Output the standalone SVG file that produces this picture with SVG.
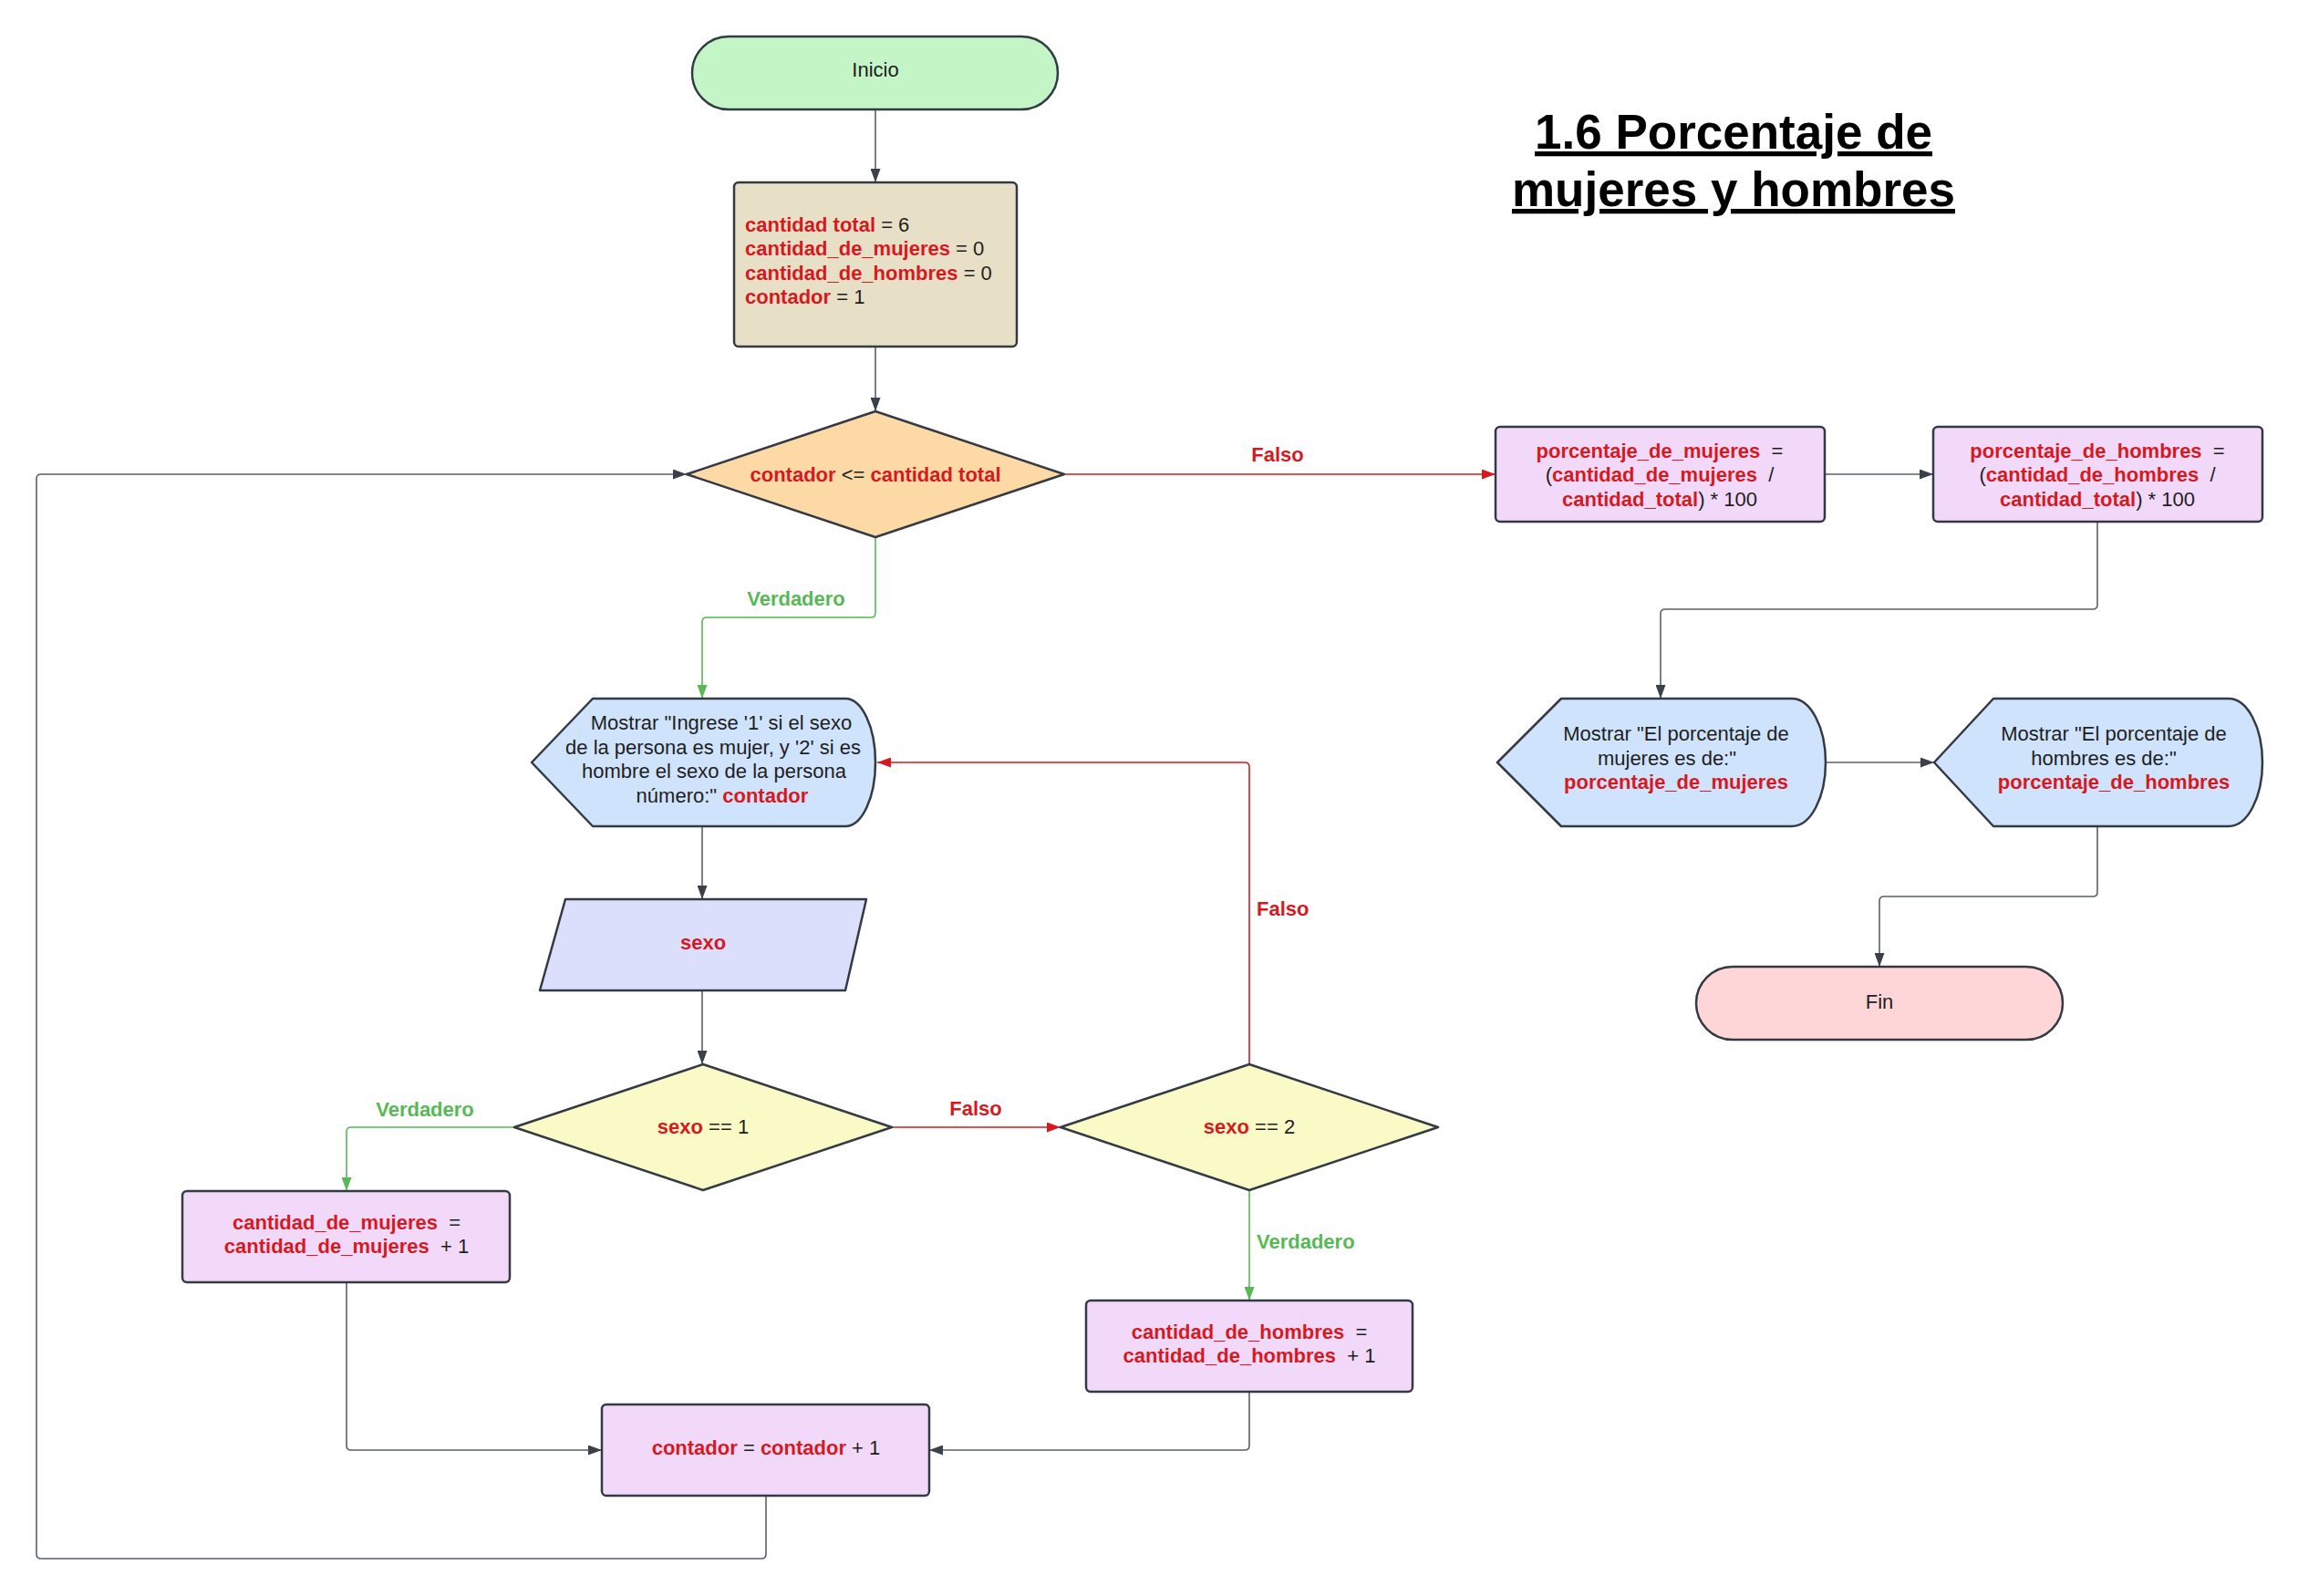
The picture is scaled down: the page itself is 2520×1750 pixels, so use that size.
<svg xmlns="http://www.w3.org/2000/svg" width="2520" height="1750" viewBox="0 0 2520 1750">
<style>
text{font-family:"Liberation Sans",Arial,sans-serif;font-size:22px;fill:#1e1e1e;white-space:pre}
.c{text-anchor:middle}
.r{fill:#d7191f;font-weight:bold}
.g{fill:#57b955;font-weight:bold}
.rl{fill:#d7191f;font-weight:bold}
.shape{stroke:#333a44;stroke-width:2.5;stroke-linejoin:round}
.ln{fill:none;stroke:#5a6068;stroke-width:1.6}
.lr{fill:none;stroke:#d7191f;stroke-width:1.6}
.lg{fill:none;stroke:#57b955;stroke-width:1.6}
.title{font-size:53px;font-weight:bold;fill:#000;text-decoration:underline;text-anchor:middle}
</style>
<defs>
<marker id="ad" markerUnits="userSpaceOnUse" markerWidth="15" markerHeight="11" refX="15" refY="5.5" orient="auto"><path d="M0,0 L15,5.5 L0,11 z" fill="#3a414a"/></marker>
<marker id="ar" markerUnits="userSpaceOnUse" markerWidth="15" markerHeight="11" refX="15" refY="5.5" orient="auto"><path d="M0,0 L15,5.5 L0,11 z" fill="#d7191f"/></marker>
<marker id="ag" markerUnits="userSpaceOnUse" markerWidth="15" markerHeight="11" refX="15" refY="5.5" orient="auto"><path d="M0,0 L15,5.5 L0,11 z" fill="#57b955"/></marker>
</defs>
<rect width="2520" height="1750" fill="#ffffff"/>

<g id="connectors">
<path class="ln" d="M960,120 V200" marker-end="url(#ad)"/>
<path class="ln" d="M960,380 V451" marker-end="url(#ad)"/>
<path class="lr" d="M1167,520 H1640" marker-end="url(#ar)"/>
<path class="ln" d="M2001,520 H2120" marker-end="url(#ad)"/>
<path class="ln" d="M2300,572 V663 Q2300,668 2295,668 H1826 Q1821,668 1821,673 V766" marker-end="url(#ad)"/>
<path class="ln" d="M2002,836 H2121" marker-end="url(#ad)"/>
<path class="ln" d="M2300,906 V978 Q2300,983 2295,983 H2066 Q2061,983 2061,988 V1060" marker-end="url(#ad)"/>
<path class="lg" d="M960,589 V672 Q960,677 955,677 H775 Q770,677 770,682 V766" marker-end="url(#ag)"/>
<path class="ln" d="M770,906 V986" marker-end="url(#ad)"/>
<path class="ln" d="M770,1086 V1167" marker-end="url(#ad)"/>
<path class="lg" d="M564,1236 H385 Q380,1236 380,1241 V1306" marker-end="url(#ag)"/>
<path class="lr" d="M978,1236 H1163" marker-end="url(#ar)"/>
<path class="lr" d="M1370,1167 V841 Q1370,836 1365,836 H962" marker-end="url(#ar)"/>
<path class="lg" d="M1370,1305 V1426" marker-end="url(#ag)"/>
<path class="ln" d="M380,1406 V1585 Q380,1590 385,1590 H660" marker-end="url(#ad)"/>
<path class="ln" d="M1370,1526 V1585 Q1370,1590 1365,1590 H1019" marker-end="url(#ad)"/>
<path class="ln" d="M840,1640 V1704 Q840,1709 835,1709 H45 Q40,1709 40,1704 V525 Q40,520 45,520 H753" marker-end="url(#ad)"/>
<text class="rl c" x="1401" y="506">Falso</text>
<text class="g c" x="873" y="664">Verdadero</text>
<text class="rl" x="1378" y="1004">Falso</text>
<text class="g c" x="466" y="1224">Verdadero</text>
<text class="rl c" x="1070" y="1223">Falso</text>
<text class="g" x="1378" y="1369">Verdadero</text>
</g>

<g id="title">
<text class="title" x="1901" y="163">1.6 Porcentaje de</text>
<text class="title" x="1901" y="226">mujeres y hombres</text>
</g>

<g id="inicio">
<rect class="shape" x="759" y="40" width="401" height="80" rx="40" fill="#c3f5c7"/>
<text class="c" x="960" y="84">Inicio</text>
</g>

<g id="init">
<rect class="shape" x="805" y="200" width="310" height="180" rx="5" fill="#e8e0c6"/>
<text x="817" y="254"><tspan class="r">cantidad total</tspan> = 6</text>
<text x="817" y="280"><tspan class="r">cantidad_de_mujeres</tspan> = 0</text>
<text x="817" y="307"><tspan class="r">cantidad_de_hombres</tspan> = 0</text>
<text x="817" y="333"><tspan class="r">contador</tspan> = 1</text>
</g>

<g id="cond-contador">
<path class="shape" d="M753,520 L960,451 L1167,520 L960,589 Z" fill="#fdd9a6"/>
<text class="c" x="960" y="528"><tspan class="r">contador</tspan> &lt;= <tspan class="r">cantidad total</tspan></text>
</g>

<g id="calc-mujeres">
<rect class="shape" x="1640" y="468" width="361" height="104" rx="5" fill="#f2d9f9"/>
<text class="c" x="1820" y="502"><tspan class="r">porcentaje_de_mujeres</tspan>  =</text>
<text class="c" x="1820" y="528">(<tspan class="r">cantidad_de_mujeres</tspan>  /</text>
<text class="c" x="1820" y="555"><tspan class="r">cantidad_total</tspan>) * 100</text>
</g>

<g id="calc-hombres">
<rect class="shape" x="2120" y="468" width="361" height="104" rx="5" fill="#f2d9f9"/>
<text class="c" x="2300" y="502"><tspan class="r">porcentaje_de_hombres</tspan>  =</text>
<text class="c" x="2300" y="528">(<tspan class="r">cantidad_de_hombres</tspan>  /</text>
<text class="c" x="2300" y="555"><tspan class="r">cantidad_total</tspan>) * 100</text>
</g>

<g id="show-mujeres">
<path class="shape" d="M1712,766 H1965 A37,70 0 0 1 1965,906 H1712 L1642,836 Z" fill="#cfe3fc"/>
<text class="c" x="1838" y="812">Mostrar "El porcentaje de</text>
<text class="c" x="1828" y="839">mujeres es de:"</text>
<text class="c" x="1838" y="865"><tspan class="r">porcentaje_de_mujeres</tspan></text>
</g>

<g id="show-hombres">
<path class="shape" d="M2186,766 H2444 A37,70 0 0 1 2444,906 H2186 L2121,836 Z" fill="#cfe3fc"/>
<text class="c" x="2318" y="812">Mostrar "El porcentaje de</text>
<text class="c" x="2307" y="839">hombres es de:"</text>
<text class="c" x="2318" y="865"><tspan class="r">porcentaje_de_hombres</tspan></text>
</g>

<g id="fin">
<rect class="shape" x="1860" y="1060" width="402" height="80" rx="40" fill="#ffd6d8"/>
<text class="c" x="2061" y="1106">Fin</text>
</g>

<g id="show-ingrese">
<path class="shape" d="M650,766 H927 A33,70 0 0 1 927,906 H650 L583,836 Z" fill="#cfe3fc"/>
<text class="c" x="791" y="800">Mostrar "Ingrese '1' si el sexo</text>
<text class="c" x="782" y="827">de la persona es mujer, y '2' si es</text>
<text class="c" x="783" y="853">hombre el sexo de la persona</text>
<text class="c" x="792" y="880">número:" <tspan class="r">contador</tspan></text>
</g>

<g id="input-sexo">
<path class="shape" d="M620,986 H950 L927,1086 H592 Z" fill="#dcdffc"/>
<text class="c r" x="771" y="1041">sexo</text>
</g>

<g id="cond-sexo1">
<path class="shape" d="M564,1236 L771,1167 L978,1236 L771,1305 Z" fill="#fafac7"/>
<text class="c" x="771" y="1243"><tspan class="r">sexo</tspan> == 1</text>
</g>

<g id="cond-sexo2">
<path class="shape" d="M1163,1236 L1370,1167 L1577,1236 L1370,1305 Z" fill="#fafac7"/>
<text class="c" x="1370" y="1243"><tspan class="r">sexo</tspan> == 2</text>
</g>

<g id="inc-mujeres">
<rect class="shape" x="200" y="1306" width="359" height="100" rx="5" fill="#f2d9f9"/>
<text class="c" x="380" y="1348"><tspan class="r">cantidad_de_mujeres</tspan>  =</text>
<text class="c" x="380" y="1374"><tspan class="r">cantidad_de_mujeres</tspan>  + 1</text>
</g>

<g id="inc-hombres">
<rect class="shape" x="1191" y="1426" width="358" height="100" rx="5" fill="#f2d9f9"/>
<text class="c" x="1370" y="1468"><tspan class="r">cantidad_de_hombres</tspan>  =</text>
<text class="c" x="1370" y="1494"><tspan class="r">cantidad_de_hombres</tspan>  + 1</text>
</g>

<g id="inc-contador">
<rect class="shape" x="660" y="1540" width="359" height="100" rx="5" fill="#f2d9f9"/>
<text class="c" x="840" y="1595"><tspan class="r">contador</tspan> = <tspan class="r">contador</tspan> + 1</text>
</g>
</svg>
